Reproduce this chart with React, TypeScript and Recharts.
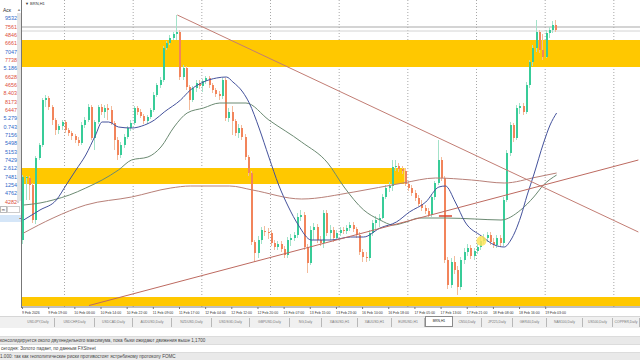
import React from 'react'
import {
  ComposedChart, Bar, Line, XAxis, YAxis, ReferenceArea, ReferenceLine, ReferenceDot,
} from 'recharts'

// BRN,H1 – hourly candles, 9 Feb 2026 .. 19 Feb 2026
const timeLabels = [
  '9 Feb 2026', '9 Feb 19:00', '10 Feb 06:00', '10 Feb 14:00', '10 Feb 22:00', '11 Feb 09:00',
  '11 Feb 17:00', '12 Feb 04:00', '12 Feb 12:00', '12 Feb 20:00', '13 Feb 07:00', '13 Feb 15:00',
  '13 Feb 23:00', '16 Feb 10:00', '16 Feb 18:00', '17 Feb 05:00', '17 Feb 13:00', '17 Feb 21:00',
  '18 Feb 08:00', '18 Feb 16:00', '19 Feb 03:00',
]

const opens = [
  67.60, 68.22, 68.22, 68.15, 67.80, 68.42, 68.55, 69.00,
  69.02, 68.93, 68.80, 68.70, 68.74, 68.78, 68.70, 68.67,
  68.64, 68.60, 68.57, 68.75, 68.80, 68.93, 68.62, 68.78,
  68.93, 68.88, 68.92, 68.90, 68.77, 68.60, 68.45, 68.55,
  68.63, 68.72, 68.77, 68.92, 68.88, 68.84, 68.79, 68.83,
  68.90, 69.05, 69.15, 69.20, 69.52, 69.57, 69.62, 69.66,
  69.68, 69.23, 69.32, 69.13, 69.00, 69.12, 69.17, 69.14,
  69.19, 69.22, 69.15, 69.10, 69.06, 69.04, 69.20, 68.82,
  68.88, 68.79, 68.67, 68.72, 68.63, 68.43, 68.27, 67.58,
  67.47, 67.60, 67.69, 67.68, 67.67, 67.57, 67.53, 67.56,
  67.51, 67.45, 67.60, 67.62, 67.65, 67.83, 67.85, 67.53,
  67.37, 67.70, 67.73, 67.60, 67.57, 67.87, 67.67, 67.70,
  67.62, 67.67, 67.70, 67.69, 67.72, 67.75, 67.71, 67.65,
  67.48, 67.43, 67.42, 67.67, 67.77, 67.80, 67.82, 68.03,
  68.12, 68.14, 68.33, 68.34, 68.31, 68.29, 68.16, 68.12,
  68.07, 68.02, 67.96, 67.92, 67.89, 67.85, 68.03, 68.17,
  68.40, 68.22, 67.40, 67.15, 67.38, 67.30, 67.13, 67.40,
  67.48, 67.52, 67.44, 67.49, 67.53, 67.59, 67.62, 67.65,
  67.58, 67.55, 67.62, 67.57, 68.00, 68.47, 68.75, 68.62,
  68.92, 68.94, 68.88, 69.15, 69.38, 69.52, 69.68, 69.50,
  69.43, 69.67, 69.70, 69.75,
]

const highs = [
  68.25, 68.24, 68.24, 68.17, 68.44, 68.57, 69.02, 69.05,
  69.04, 68.95, 68.82, 68.76, 68.80, 68.80, 68.72, 68.69,
  68.66, 68.63, 68.78, 68.83, 68.96, 68.95, 68.80, 68.95,
  68.96, 68.95, 68.96, 68.94, 68.79, 68.63, 68.58, 68.66,
  68.74, 68.80, 68.94, 68.94, 68.91, 68.86, 68.85, 68.92,
  69.08, 69.17, 69.23, 69.54, 69.59, 69.65, 69.68, 69.85,
  69.70, 69.35, 69.34, 69.15, 69.14, 69.20, 69.20, 69.21,
  69.24, 69.24, 69.17, 69.12, 69.09, 69.22, 69.22, 68.92,
  68.94, 68.81, 68.76, 68.75, 68.66, 68.45, 68.29, 67.60,
  67.64, 67.73, 67.74, 67.72, 67.70, 67.60, 67.59, 67.59,
  67.54, 67.63, 67.66, 67.68, 67.87, 67.90, 67.88, 67.56,
  67.74, 67.77, 67.76, 67.64, 67.90, 67.90, 67.75, 67.73,
  67.70, 67.73, 67.73, 67.75, 67.78, 67.78, 67.73, 67.68,
  67.51, 67.48, 67.70, 67.80, 67.84, 67.86, 68.06, 68.15,
  68.18, 68.40, 68.40, 68.37, 68.34, 68.32, 68.19, 68.15,
  68.10, 68.05, 68.00, 67.95, 67.92, 68.06, 68.19, 68.60,
  68.43, 68.24, 67.43, 67.42, 67.44, 67.34, 67.43, 67.52,
  67.56, 67.55, 67.52, 67.56, 67.63, 67.66, 67.68, 67.68,
  67.62, 67.65, 67.65, 68.03, 68.50, 68.78, 68.77, 68.95,
  68.97, 68.97, 69.18, 69.40, 69.55, 69.80, 69.70, 69.66,
  69.70, 69.73, 69.79, 69.80,
]

const lows = [
  67.56, 68.00, 68.00, 67.77, 67.76, 68.40, 68.53, 68.93,
  68.90, 68.75, 68.65, 68.66, 68.70, 68.67, 68.64, 68.60,
  68.57, 68.54, 68.55, 68.72, 68.78, 68.60, 68.50, 68.76,
  68.85, 68.82, 68.80, 68.75, 68.50, 68.40, 68.42, 68.52,
  68.61, 68.69, 68.75, 68.85, 68.82, 68.76, 68.76, 68.81,
  68.88, 69.03, 69.12, 69.18, 69.50, 69.55, 69.60, 69.60,
  69.20, 69.20, 69.10, 68.90, 68.98, 69.08, 69.11, 69.08,
  69.16, 69.12, 69.07, 69.03, 69.00, 69.01, 68.79, 68.78,
  68.65, 68.64, 68.62, 68.60, 68.40, 68.24, 67.55, 67.38,
  67.42, 67.56, 67.64, 67.61, 67.54, 67.50, 67.50, 67.48,
  67.42, 67.42, 67.54, 67.59, 67.62, 67.79, 67.50, 67.27,
  67.35, 67.60, 67.57, 67.54, 67.52, 67.64, 67.60, 67.58,
  67.60, 67.64, 67.66, 67.66, 67.69, 67.68, 67.62, 67.45,
  67.38, 67.38, 67.39, 67.64, 67.71, 67.73, 67.81, 68.01,
  68.08, 68.09, 68.29, 68.28, 68.26, 68.14, 68.09, 68.04,
  67.99, 67.94, 67.89, 67.86, 67.83, 67.83, 68.00, 68.15,
  68.19, 67.37, 67.11, 67.12, 67.26, 67.05, 67.10, 67.36,
  67.44, 67.41, 67.40, 67.46, 67.50, 67.56, 67.58, 67.55,
  67.52, 67.52, 67.53, 67.54, 67.98, 68.44, 68.58, 68.60,
  68.86, 68.85, 68.86, 69.12, 69.34, 69.48, 69.47, 69.40,
  69.42, 69.62, 69.67, 69.68,
]

const closes = [
  68.23, 68.23, 68.15, 67.80, 68.42, 68.55, 69.00, 69.02,
  68.93, 68.80, 68.70, 68.74, 68.78, 68.70, 68.67, 68.64,
  68.60, 68.57, 68.75, 68.80, 68.93, 68.62, 68.78, 68.93,
  68.88, 68.92, 68.90, 68.77, 68.60, 68.45, 68.55, 68.63,
  68.72, 68.77, 68.92, 68.88, 68.84, 68.79, 68.83, 68.90,
  69.05, 69.15, 69.20, 69.52, 69.57, 69.62, 69.66, 69.68,
  69.23, 69.32, 69.13, 69.00, 69.12, 69.17, 69.14, 69.19,
  69.22, 69.15, 69.10, 69.06, 69.04, 69.20, 68.82, 68.88,
  68.79, 68.67, 68.72, 68.63, 68.43, 68.27, 67.58, 67.47,
  67.60, 67.70, 67.68, 67.67, 67.57, 67.53, 67.56, 67.51,
  67.45, 67.60, 67.62, 67.65, 67.83, 67.85, 67.53, 67.37,
  67.70, 67.73, 67.60, 67.57, 67.87, 67.67, 67.70, 67.62,
  67.67, 67.70, 67.69, 67.72, 67.75, 67.71, 67.65, 67.48,
  67.43, 67.42, 67.67, 67.77, 67.80, 67.82, 68.03, 68.12,
  68.14, 68.33, 68.34, 68.31, 68.29, 68.16, 68.12, 68.07,
  68.02, 67.96, 67.92, 67.89, 67.85, 68.03, 68.17, 68.40,
  68.22, 67.40, 67.15, 67.38, 67.30, 67.13, 67.40, 67.48,
  67.52, 67.44, 67.49, 67.53, 67.59, 67.62, 67.65, 67.58,
  67.55, 67.62, 67.57, 68.00, 68.47, 68.75, 68.62, 68.92,
  68.94, 68.88, 69.15, 69.38, 69.52, 69.68, 69.50, 69.43,
  69.67, 69.70, 69.75, 69.70,
]

// moving averages at [bar, price]
const maFastPts = [
  [0, 67.80], [5, 67.90], [10, 68.00], [13, 68.15], [16, 68.30], [19, 68.45], [22, 68.65],
  [24, 68.78], [26, 68.78], [29, 68.73], [33, 68.72], [37, 68.75], [40, 68.80], [43, 68.88],
  [48, 69.00], [51, 69.10], [55, 69.18], [59, 69.22], [62, 69.23], [64, 69.18], [67, 69.08],
  [69, 68.97], [72, 68.72], [75, 68.43], [78, 68.15], [81, 67.93], [84, 67.75], [88, 67.60],
  [94, 67.60], [100, 67.63], [104, 67.63], [109, 67.72], [114, 67.78], [118, 67.88],
  [123, 67.98], [127, 68.13], [129, 68.14], [132, 67.98], [135, 67.78], [140, 67.64],
  [144, 67.55], [147, 67.53], [149, 67.60], [152, 67.83], [154, 68.05], [156, 68.25],
  [159, 68.57], [161, 68.75], [163, 68.87],
]
const maMidPts = [
  [0, 67.95], [5, 67.97], [9, 68.00], [14, 68.05], [19, 68.12], [24, 68.20], [29, 68.30],
  [33, 68.40], [38, 68.43], [42, 68.53], [46, 68.73], [50, 68.87], [55, 68.92], [60, 68.97],
  [68, 68.97], [75, 68.80], [85, 68.58], [93, 68.37], [98, 68.13], [104, 67.90], [109, 67.80],
  [113, 67.75], [117, 67.78], [121, 67.82], [129, 67.82], [138, 67.81], [146, 67.80],
  [152, 67.90], [156, 68.03], [159, 68.15], [163, 68.25],
]
const maSlowPts = [
  [0, 67.67], [9, 67.82], [19, 67.95], [33, 68.03], [45, 68.12], [51, 68.14], [63, 68.14],
  [70, 68.10], [85, 68.01], [101, 68.08], [116, 68.17], [126, 68.22], [137, 68.20],
  [147, 68.17], [157, 68.23], [163, 68.27],
]

// zones and trend lines
const zones = [
  { from: 69.33, to: 69.60, endBar: null },
  { from: 68.16, to: 68.32, endBar: 116 },
  { from: 66.94, to: 67.03, endBar: null },
]
const trendDown = [{ x: 47, y: 69.85 }, { x: 188, y: 67.68 }]
const trendUp = [{ x: 20, y: 66.945 }, { x: 188, y: 68.40 }]
const priceLines = [69.73, 69.69]
const gridBars = [13, 34, 55, 76, 97, 118, 139, 160, 181]

const tabs: [string, number][] = [
  ['USDJPY,Daily', 33], ['USDCHF,Daily', 40], ['USDCAD,Daily', 38], ['AUDUSD,Daily', 39],
  ['NZDUSD,Daily', 40], ['USDSGD,Daily', 38], ['GBPUSD,Daily', 40], ['NG,Daily', 32],
  ['XAGUSD,H1', 36], ['XAUUSD,H1', 34], ['EURUSD,H1', 33], ['BRN,H1', 28], ['CN50,Daily', 29],
  ['JP225,Daily', 31], ['GER40,Daily', 34], ['NAS100,Daily', 36], ['US500,Daily', 30],
  ['COPPER,Daily', 27],
]

const askTails = [
  '9532', '7561', '4846', '6661', '7047', '7738', '5.186', '6628', '4656', '8.403', '8173', '6447',
  '5.279', '0.743', '7156', '5498', '5153', '7429', '2.612', '7481', '1254', '4762', '4282',
]
const askUp = [
  true, false, false, false, true, false, true, false, false, false, false, false,
  true, true, true, true, true, true, true, true, true, true, false,
]

const news = [
  'консолидируется около двухнедельного максимума, пока быки ожидают движения выше 1,1700',
  'сегодня: Золото падает, по данным FXStreet',
  '1.000: так как геополитические риски противостоят ястребиному протоколу FOMC',
]

const SLOTS = 189
const BULL = '#38cc98'
const BEAR = '#f2845b'
const BULL_WICK = '#a3e2c9'
const BEAR_WICK = '#f3bb9b'

function toMap(pts: number[][]) {
  const m: Record<number, number> = {}
  pts.forEach(([i, v]) => { m[i] = v })
  return m
}

const fastMap = toMap(maFastPts)
const midMap = toMap(maMidPts)
const slowMap = toMap(maSlowPts)

const rows = Array.from({ length: SLOTS }, (_, i) => {
  const has = i < closes.length
  return {
    i,
    range: has ? [lows[i], highs[i]] : null,
    o: has ? opens[i] : null,
    h: has ? highs[i] : null,
    l: has ? lows[i] : null,
    c: has ? closes[i] : null,
    fast: fastMap[i] ?? null,
    mid: midMap[i] ?? null,
    slow: slowMap[i] ?? null,
  }
})

function Candle(props: any) {
  const { x, y, width, height, payload } = props
  if (!payload || payload.h == null) return null
  const { o, h, l, c } = payload
  const top = Math.min(y, y + height)
  const bot = Math.max(y, y + height)
  const span = h - l || 1
  const py = (v: number) => top + ((h - v) / span) * (bot - top)
  const px = Math.floor(x + width / 2) - 1
  const flat = Math.abs(c - o) < 0.005
  const up = c > o
  const b1 = Math.round(py(Math.max(o, c)))
  const b2 = Math.max(Math.round(py(Math.min(o, c))), b1 + 1)
  return (
    <g>
      <line x1={px + 0.5} x2={px + 0.5} y1={top} y2={bot}
        stroke={flat ? '#9a9a9a' : up ? BULL_WICK : BEAR_WICK} strokeWidth={1} />
      <rect x={px} y={b1} width={2} height={b2 - b1} fill={flat ? '#666' : up ? BULL : BEAR} />
    </g>
  )
}

function TimeTick(props: any) {
  const { x, y, payload } = props
  const k = payload.value / 8
  const label = Number.isInteger(k) ? timeLabels[k] : undefined
  if (!label) return null
  const left = x - 1.6
  return (
    <g>
      <line x1={left + 0.5} x2={left + 0.5} y1={y} y2={y + 2} stroke="#777" />
      <text x={left} y={y + 6.5} fontSize={3.5} fill="#333" fontFamily="Liberation Sans">{label}</text>
    </g>
  )
}

function MarketWatch() {
  return (
    <div style={{ position: 'absolute', left: 0, top: 0, width: 21, height: 307, background: '#fff' }}>
      <div style={{ position: 'absolute', left: 3, top: 7, fontSize: 5, lineHeight: '6px', color: '#333' }}>Аск</div>
      <div style={{ position: 'absolute', left: 17, top: 13, width: 4, height: 188, background: '#e4e4e4' }} />
      <div style={{ position: 'absolute', left: 17, top: 7, fontSize: 4, lineHeight: '5px', color: '#888' }}>▲</div>
      <div style={{ position: 'absolute', left: 17, top: 199, fontSize: 4, lineHeight: '5px', color: '#888' }}>v</div>
      {askTails.map((t, k) => (
        <div key={k} style={{
          position: 'absolute', right: 4, top: 15.3 + k * 8.33, fontSize: 5.4, lineHeight: '6px',
          color: askUp[k] ? '#2d68c8' : '#dc4f3c', whiteSpace: 'nowrap',
        }}>{t}</div>
      ))}
      <div style={{ position: 'absolute', left: 0, top: 206, width: 7, height: 7, border: '1px solid #bbb', boxSizing: 'border-box', fontSize: 4, lineHeight: '6px', color: '#555', textAlign: 'center' }}>m</div>
      <div style={{ position: 'absolute', left: 7, top: 206, width: 13, height: 7, border: '1px solid #ccc', boxSizing: 'border-box' }} />
      <div style={{ position: 'absolute', left: 0, top: 215, width: 21, height: 7, background: '#d5e6f8', fontSize: 4, lineHeight: '7px', color: '#333', textAlign: 'right' }}>▪</div>
    </div>
  )
}

export default function App() {
  let tabLeft = 22
  return (
    <div style={{
      position: 'fixed', left: 0, top: 0, width: 640, height: 360, background: '#fff', overflow: 'hidden',
      fontFamily: '"Liberation Sans", Arial, sans-serif',
    }}>
      <MarketWatch />
      <div style={{ position: 'absolute', left: 21, top: 0, width: 1, height: 308, background: '#777' }} />

      <div style={{ position: 'absolute', left: 22, top: 0 }}>
        <ComposedChart width={618} height={316} data={rows} margin={{ top: 0, right: 0, bottom: 0, left: 0 }}>
          <XAxis dataKey="i" interval={7} tickLine={false} tickSize={0} tickMargin={0} height={9}
            axisLine={{ stroke: '#808080' }} tick={(p: any) => <TimeTick {...p} />} />
          <YAxis hide type="number" domain={[66.93, 70.0]} allowDataOverflow />

          {gridBars.map((b) => (
            <ReferenceLine key={b} x={b} position="start" stroke="#a8a8a8" strokeDasharray="1 2" zIndex={-100} />
          ))}
          {zones.map((z, k) => (
            <ReferenceArea key={k} x1={z.endBar == null ? undefined : 0} x2={z.endBar == null ? undefined : z.endBar}
              y1={z.from} y2={z.to} fill="#ffc800" fillOpacity={1} stroke="none" zIndex={-50} />
          ))}
          {priceLines.map((p, k) => (
            <ReferenceLine key={p} y={p} stroke={k === 0 ? '#a9a9a9' : '#d4d4d4'} zIndex={-40} />
          ))}

          <Bar dataKey="range" shape={(p: any) => <Candle {...p} />} isAnimationActive={false} />

          <Line dataKey="slow" type="monotone" stroke="#b88078" strokeWidth={1} dot={false} connectNulls isAnimationActive={false} />
          <Line dataKey="mid" type="monotone" stroke="#6b8a72" strokeWidth={1} dot={false} connectNulls isAnimationActive={false} />
          <Line dataKey="fast" type="monotone" stroke="#44529c" strokeWidth={1} dot={false} connectNulls isAnimationActive={false} />

          <ReferenceLine segment={trendDown} stroke="#c27d74" strokeWidth={1} />
          <ReferenceLine segment={trendUp} stroke="#bd6a60" strokeWidth={1} />
          <ReferenceLine segment={[{ x: 127, y: 67.84 }, { x: 131, y: 67.84 }]} stroke="#d9442f" strokeWidth={1.5} />
          <ReferenceDot x={140} y={67.59} r={5} fill="#ffe45c" fillOpacity={0.85} stroke="none" />
        </ComposedChart>
      </div>

      <div style={{ position: 'absolute', left: 25, top: 1, fontSize: 4, lineHeight: '5px', color: '#333' }}>▼ BRN,H1</div>

      <div style={{ position: 'absolute', left: 0, top: 316, width: 640, height: 12, background: '#f0f0f0', borderTop: '1px solid #d6d6d6', boxSizing: 'border-box' }}>
        {tabs.map(([name, w]) => {
          const left = tabLeft
          tabLeft += w
          const active = name === 'BRN,H1'
          return (
            <div key={name} style={{
              position: 'absolute', left, top: active ? -1 : 1, width: w, height: active ? 11 : 9,
              background: active ? '#fff' : 'transparent',
              border: active ? '1px solid #8a8a8a' : 'none',
              borderRight: active ? '1px solid #8a8a8a' : '1px solid #b8b8b8',
              boxSizing: 'border-box', fontSize: 3.4, lineHeight: '9px',
              color: active ? '#222' : '#777', textAlign: 'center', whiteSpace: 'nowrap',
            }}>{name}</div>
          )
        })}
      </div>

      <div style={{ position: 'absolute', left: 0, top: 328, width: 640, height: 32, background: '#fff' }}>
        {news.map((t, k) => (
          <div key={k} style={{
            position: 'absolute', left: 0, top: 8 + k * 8, width: 640, height: 8,
            background: k === 1 ? '#fff' : '#e9e9e9', borderTop: '1px solid #dcdcdc', boxSizing: 'border-box',
          }}>
            <span style={{
              position: 'absolute', left: k === 1 ? 1 : 0, top: 1, fontSize: 4.6,
              lineHeight: '6px', color: '#444', whiteSpace: 'nowrap',
            }}>{t}</span>
          </div>
        ))}
      </div>
    </div>
  )
}
